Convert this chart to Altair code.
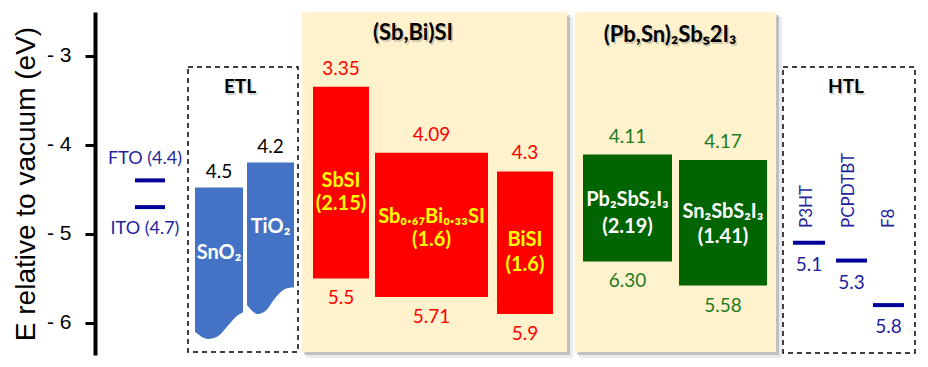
import altair as alt
import pandas as pd

# ---------------- values ----------------
absorbers   = ["SbSI", "Sb₀.₆₇Bi₀.₃₃SI", "BiSI", "Pb₂SbS₂I₃", "Sn₂SbS₂I₃"]
abs_gap     = ["(2.15)", "(1.6)", "(1.6)", "(2.19)", "(1.41)"]
abs_cbm     = [3.35, 4.09, 4.30, 4.11, 4.17]
abs_vbm     = [5.50, 5.71, 5.90, 5.31, 5.58]          # bottom edges as drawn
abs_cbm_lbl = ["3.35", "4.09", "4.3", "4.11", "4.17"]
abs_vbm_lbl = ["5.5", "5.71", "5.9", "6.30", "5.58"]
abs_family  = ["SbBi", "SbBi", "SbBi", "PbSn", "PbSn"]

etl_names   = ["SnO₂", "TiO₂"]
etl_cbm     = [4.48, 4.20]
etl_cbm_lbl = ["4.5", "4.2"]
sno2_bottom = [6.10, 6.18, 6.15, 6.03, 5.93, 5.88]    # wavy lower edge
tio2_bottom = [5.80, 5.90, 5.86, 5.71, 5.62, 5.60]

tco_names = ["FTO (4.4)", "ITO (4.7)"]
tco_wf    = [4.4, 4.7]

htl_names = ["P3HT", "PCPDTBT", "F8"]
htl_homo  = [5.1, 5.3, 5.8]
htl_lbl   = ["5.1", "5.3", "5.8"]

group_titles = ["ETL", "HTL"]
family_titles = ["(Sb,Bi)SI", "(Pb,Sn)₂Sbₛ2I₃"]
y_ticks = [3, 4, 5, 6]

# ---------------- layout (plot-area pixels) ----------------
W, H = 825, 343
E_TOP, E_BOT = 2.51, 6.36


def ey(py):
    """plot-area pixel offset from top -> energy on the y scale"""
    return E_TOP + py * (E_BOT - E_TOP) / H


abs_x0 = [218, 280, 402, 488, 584]
abs_x1 = [274, 393, 458, 577, 672]
abs_name_py = [169, 205, 228, 188, 200]
abs_gap_py = [192, 228, 253, 215, 225]
etl_x0 = [100, 152]
etl_x1 = [148, 199]
etl_name_py = [241, 215]
sno2_wx = [100, 113, 123, 133, 141, 148]
tio2_wx = [152, 163, 171, 181, 190, 199]
tco_x0, tco_x1, tco_lx = 40, 70, 50
htl_x0 = [698, 741, 778]
htl_x1 = [730, 772, 809]
htl_name_x = [712, 754, 794]
htl_name_py = 216
panel_x0, panel_x1 = [207, 480], [472, 681]
box_x0, box_x1, box_py0, box_py1 = [93, 688], [203, 820], [55, 55], [340, 341]
gtitle_x, gtitle_py = [145, 751], [75, 75]
ftitle_x, ftitle_py = [318, 575], [21, 23]

FONT = "Lato"
AX_FONT = "Liberation Sans"
RED, GREEN, BLUE, NAVY = "#FF0000", "#006400", "#4472C4", "#000099"
RED_T, GREEN_T, NAVY_T = "#FF0000", "#1E7B1E", "#1F1FA0"
TITLE = "E relative to vacuum (eV)"

yscale = alt.Scale(domain=[E_TOP, E_BOT], reverse=True, nice=False, zero=False)
xscale = alt.Scale(domain=[0, W], nice=False, zero=False)
yax = alt.Axis(values=y_ticks, labelExpr="'- ' + datum.value", grid=False,
               domainColor="black", domainWidth=4, tickColor="black", tickWidth=3,
               tickSize=10, labelFont=AX_FONT, labelFontSize=21, labelColor="black",
               labelPadding=14, titleFont=AX_FONT, titleFontSize=28,
               titleFontWeight="normal", titleColor="black", titlePadding=6)


def X(f):
    return alt.X(f, type="quantitative", scale=xscale, axis=None)


def Y(f):
    return alt.Y(f, type="quantitative", scale=yscale, axis=yax, title=TITLE)


# ---------- frames ----------
panels = pd.DataFrame({"x0": panel_x0, "x1": panel_x1,
                       "e0": [ey(0)] * 2, "e1": [ey(340)] * 2})
shadow_a = pd.DataFrame({"x0": [v + 2 for v in panel_x0], "x1": [v + 3 for v in panel_x1],
                         "e0": [ey(3)] * 2, "e1": [ey(343)] * 2})
shadow_b = pd.DataFrame({"x0": [v + 4 for v in panel_x0], "x1": [v + 6 for v in panel_x1],
                         "e0": [ey(5)] * 2, "e1": [ey(346)] * 2})
boxes = pd.DataFrame({"x0": box_x0, "x1": box_x1,
                      "e0": [ey(p) for p in box_py0], "e1": [ey(p) for p in box_py1]})

absdf = pd.DataFrame({
    "name": absorbers, "gap": abs_gap, "cbm": abs_cbm, "vbm": abs_vbm,
    "cl": abs_cbm_lbl, "vl": abs_vbm_lbl, "fam": abs_family,
    "x0": abs_x0, "x1": abs_x1,
    "xc": [(a + b) / 2 for a, b in zip(abs_x0, abs_x1)],
    "ny": [ey(p) for p in abs_name_py], "gy": [ey(p) for p in abs_gap_py],
})
absdf["fill"] = absdf["fam"].map({"SbBi": RED, "PbSn": GREEN})
absdf["tc"] = absdf["fam"].map({"SbBi": RED_T, "PbSn": GREEN_T})
absdf["ic"] = absdf["fam"].map({"SbBi": "#FFFF00", "PbSn": "#FFFFFF"})

etl_area = pd.DataFrame({
    "name": [etl_names[0]] * len(sno2_wx) + [etl_names[1]] * len(tio2_wx),
    "x": sno2_wx + tio2_wx,
    "top": [etl_cbm[0]] * len(sno2_wx) + [etl_cbm[1]] * len(tio2_wx),
    "bot": sno2_bottom + tio2_bottom,
})
etldf = pd.DataFrame({
    "name": etl_names, "cbm": etl_cbm, "cl": etl_cbm_lbl,
    "xc": [(a + b) / 2 for a, b in zip(etl_x0, etl_x1)],
    "ny": [ey(p) for p in etl_name_py],
})
tcodf = pd.DataFrame({"name": tco_names, "wf": tco_wf,
                      "x0": [tco_x0] * 2, "x1": [tco_x1] * 2, "lx": [tco_lx] * 2})
htldf = pd.DataFrame({"name": htl_names, "homo": htl_homo, "lbl": htl_lbl,
                      "x0": htl_x0, "x1": htl_x1,
                      "xc": [(a + b) / 2 for a, b in zip(htl_x0, htl_x1)],
                      "nx": htl_name_x, "ny": [ey(htl_name_py)] * 3})
gtitledf = pd.DataFrame({"t": group_titles, "x": gtitle_x,
                         "y": [ey(p) for p in gtitle_py]})
ftitledf = pd.DataFrame({"t": family_titles, "x": ftitle_x,
                         "y": [ey(p) for p in ftitle_py]})

layers = []
# axis-bearing invisible anchor layer
layers.append(alt.Chart(pd.DataFrame({"e": [E_TOP, E_BOT], "x": [0, 0]}))
              .mark_point(opacity=0).encode(x=X("x"), y=Y("e")))
layers.append(alt.Chart(shadow_b).mark_rect(color="#000000", opacity=0.08)
              .encode(x=X("x0"), x2="x1", y=Y("e0"), y2="e1"))
layers.append(alt.Chart(shadow_a).mark_rect(color="#000000", opacity=0.18)
              .encode(x=X("x0"), x2="x1", y=Y("e0"), y2="e1"))
layers.append(alt.Chart(panels).mark_rect(color="#FFF2CC")
              .encode(x=X("x0"), x2="x1", y=Y("e0"), y2="e1"))
layers.append(alt.Chart(boxes).mark_rect(filled=False, stroke="black", strokeWidth=1.5,
                                         strokeDash=[5, 4])
              .encode(x=X("x0"), x2="x1", y=Y("e0"), y2="e1"))
# absorber bars
layers.append(alt.Chart(absdf).mark_rect()
              .encode(x=X("x0"), x2="x1", y=Y("cbm"), y2="vbm",
                      color=alt.Color("fill:N", scale=None)))
layers.append(alt.Chart(absdf).mark_text(font=FONT, fontSize=19, dy=-18)
              .encode(x=X("xc"), y=Y("cbm"), text="cl:N",
                      color=alt.Color("tc:N", scale=None)))
layers.append(alt.Chart(absdf).mark_text(font=FONT, fontSize=19, dy=20)
              .encode(x=X("xc"), y=Y("vbm"), text="vl:N",
                      color=alt.Color("tc:N", scale=None)))
layers.append(alt.Chart(absdf).mark_text(font=FONT, fontSize=20, fontWeight="bold")
              .encode(x=X("xc"), y=Y("ny"), text="name:N",
                      color=alt.Color("ic:N", scale=None)))
layers.append(alt.Chart(absdf).mark_text(font=FONT, fontSize=20, fontWeight="bold")
              .encode(x=X("xc"), y=Y("gy"), text="gap:N",
                      color=alt.Color("ic:N", scale=None)))
# ETL columns
layers.append(alt.Chart(etl_area).mark_area(interpolate="monotone", color=BLUE)
              .encode(x=X("x"), y=Y("top"), y2="bot", detail="name:N"))
layers.append(alt.Chart(etldf).mark_text(font=FONT, fontSize=19, dy=-16, color="black")
              .encode(x=X("xc"), y=Y("cbm"), text="cl:N"))
layers.append(alt.Chart(etldf).mark_text(font=FONT, fontSize=20, fontWeight="bold",
                                         color="white")
              .encode(x=X("xc"), y=Y("ny"), text="name:N"))
# FTO / ITO
layers.append(alt.Chart(tcodf).mark_rule(color=NAVY, strokeWidth=4)
              .encode(x=X("x0"), x2="x1", y=Y("wf")))
layers.append(alt.Chart(tcodf.iloc[[0]]).mark_text(font=FONT, fontSize=18, dy=-21,
                                                    color=NAVY_T)
              .encode(x=X("lx"), y=Y("wf"), text="name:N"))
layers.append(alt.Chart(tcodf.iloc[[1]]).mark_text(font=FONT, fontSize=18, dy=22,
                                                    color=NAVY_T)
              .encode(x=X("lx"), y=Y("wf"), text="name:N"))
# HTL
layers.append(alt.Chart(htldf).mark_rule(color=NAVY, strokeWidth=4)
              .encode(x=X("x0"), x2="x1", y=Y("homo")))
layers.append(alt.Chart(htldf).mark_text(font=FONT, fontSize=19, dy=22, color=NAVY_T)
              .encode(x=X("xc"), y=Y("homo"), text="lbl:N"))
layers.append(alt.Chart(htldf).mark_text(font=FONT, fontSize=17, angle=270, align="left",
                                         baseline="middle", color=NAVY_T)
              .encode(x=X("nx"), y=Y("ny"), text="name:N"))
# titles (with a faint glow like the original)
for df, fs in [(gtitledf, 19), (ftitledf, 22)]:
    layers.append(alt.Chart(df).mark_text(font=FONT, fontSize=fs, fontWeight="bold",
                                          color="#808080", opacity=0.35, dx=1.5, dy=1.5)
                  .encode(x=X("x"), y=Y("y"), text="t:N"))
    layers.append(alt.Chart(df).mark_text(font=FONT, fontSize=fs, fontWeight="bold",
                                          color="black")
                  .encode(x=X("x"), y=Y("y"), text="t:N"))

chart = alt.layer(*layers).properties(
    width=W, height=H,
    autosize=alt.AutoSizeParams(type="none"),
    padding={"left": 87, "top": 4, "right": 0, "bottom": 4},
).configure_view(stroke=None)

chart.save("out.html", embed_options={"renderer": "svg", "actions": False})
